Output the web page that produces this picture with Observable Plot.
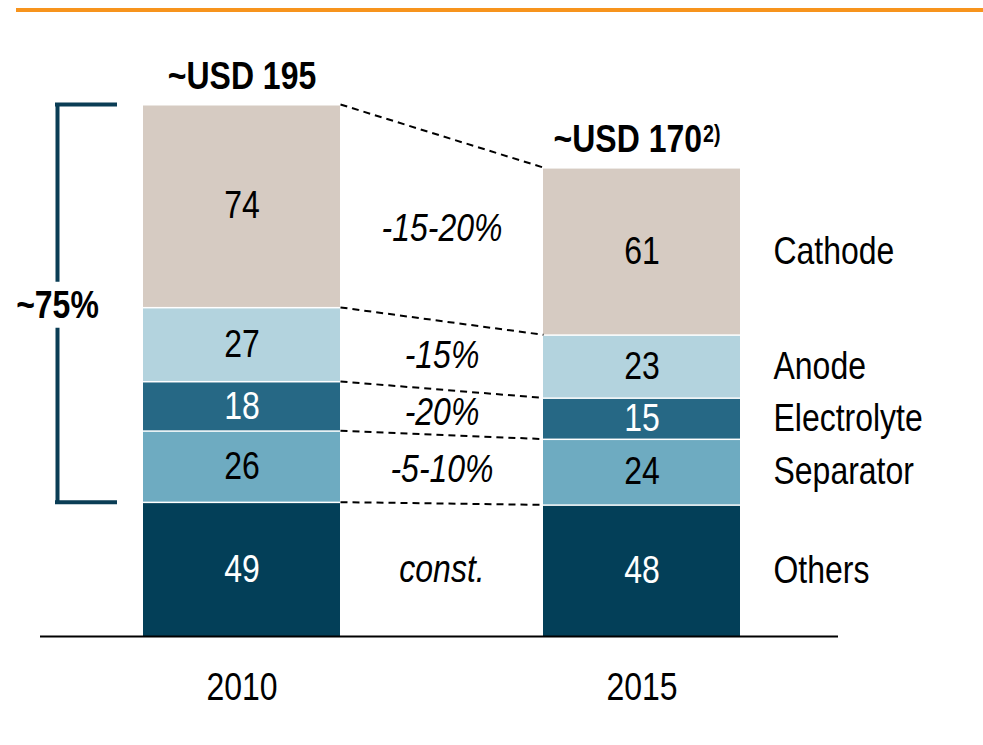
<!DOCTYPE html>
<html><head><meta charset="utf-8">
<script src="https://cdn.jsdelivr.net/npm/d3@7"></script>
<script src="https://cdn.jsdelivr.net/npm/@observablehq/plot@0.6"></script>
<style>
body{margin:0;background:#fff;}
#wrap{position:relative;width:983px;height:745px;}
#rule{position:absolute;left:16px;right:0;top:8px;height:4px;background:#f7941d;}
#chart{position:absolute;left:0;top:0;}
</style></head><body><div id="wrap"><div id="chart"></div><div id="rule"></div></div>
<script>
const years = ["2010", "2015"];
const parts = ["Others", "Separator", "Electrolyte", "Anode", "Cathode"];
const values2010 = [49, 26, 18, 27, 74];
const values2015 = [48, 24, 15, 23, 61];
const totalLabels = ["~USD 195", "~USD 170"];
const totalNotes = ["", "2)"];
const changes = ["const.", "-5-10%", "-20%", "-15%", "-15-20%"];
const colors = ["#033f58", "#6eabc1", "#266885", "#b3d3de", "#d6cbc2"];
const textColors = ["#ffffff", "#000000", "#ffffff", "#000000", "#000000"];
const shareLabel = "~75%";

const FONT = "'Liberation Sans',Arial,sans-serif";
const NARROW = 0.82;         // horizontal squeeze to mimic a narrow face
const px = 1 / 400;          // x units per pixel (bar step = 400px)
const h = 98.5 * px;         // half bar width

const series = [values2010, values2015];
const segments = [];
series.forEach((vals, i) => {
  let c = 0;
  vals.forEach((v, j) => {
    segments.push({i, year: years[i], part: parts[j], value: v, y1: c, y2: c + v, mid: c + v / 2, textColor: textColors[j]});
    c += v;
  });
});
const totals = series.map((vals, i) => ({i, total: d3.sum(vals), label: totalLabels[i], note: totalNotes[i]}));
const seg = (i, j) => segments[i * parts.length + j];

const links = parts.map((p, j) => ({a: seg(0, j).y2, b: seg(1, j).y2}));
const changeRows = parts.map((p, j) => ({text: changes[j], y: (seg(0, j).mid + seg(1, j).mid) / 2}));
const labels2015 = segments.filter(d => d.i === 1);

const bracketLow = seg(0, 0).y2;
const bracketHigh = totals[0].total;
const bracketMid = (bracketLow + bracketHigh) / 2;
const bx = -h - 86 * px;
const bxEnd = -h - 28 * px;
const bracketColor = "#0a3d55";

const chart = Plot.plot({
  width: 983,
  height: 745,
  marginLeft: 40,
  marginRight: 145,
  marginTop: 0,
  marginBottom: 109,
  style: {fontFamily: FONT, background: "transparent", overflow: "visible"},
  x: {domain: [0, 1], range: [241.5, 641.5], axis: null},
  y: {domain: [0, 194], range: [636, 104], axis: null},
  color: {domain: parts, range: colors},
  marks: [
    Plot.rect(segments, {x1: d => d.i - h, x2: d => d.i + h, y1: "y1", y2: "y2", fill: "part", insetTop: 1.5}),
    Plot.link(links, {x1: h, x2: 1 - h, y1: "a", y2: "b", stroke: "#000", strokeWidth: 2, strokeDasharray: "7,5"}),
    Plot.text(segments, {x: "i", y: "mid", text: d => String(d.value), fill: "textColor", fontSize: 39}),
    Plot.text(labels2015, {x: 1 + h, dx: 33, y: "mid", text: "part", textAnchor: "start", fill: "#000", fontSize: 39}),
    Plot.text(changeRows, {x: 0.5, y: "y", text: "text", fontStyle: "italic", fill: "#000", fontSize: 39}),
    Plot.text(totals.filter(d => !d.note), {x: "i", y: "total", dy: -16, lineAnchor: "bottom", text: "label", fontWeight: "bold", fontSize: 39, fill: "#000"}),
    Plot.text(totals.filter(d => d.note), {x: "i", y: "total", dx: 60, dy: -16, lineAnchor: "bottom", textAnchor: "end", text: "label", fontWeight: "bold", fontSize: 39, fill: "#000"}),
    Plot.text(totals.filter(d => d.note), {x: "i", y: "total", dx: 61, dy: -26, lineAnchor: "bottom", textAnchor: "start", text: "note", fontWeight: "bold", fontSize: 24, fill: "#000"}),
    Plot.ruleX([bx], {y1: bracketHigh, y2: bracketMid, stroke: bracketColor, strokeWidth: 4, insetBottom: 21}),
    Plot.ruleX([bx], {y1: bracketMid, y2: bracketLow, stroke: bracketColor, strokeWidth: 4, insetTop: 25}),
    Plot.ruleY([bracketLow, bracketHigh], {x1: bx, x2: bxEnd, stroke: bracketColor, strokeWidth: 4, strokeLinecap: "square"}),
    Plot.text([shareLabel], {x: bx, y: bracketMid, dy: 2, text: d => d, fontWeight: "bold", fontSize: 39, fill: "#000"}),
    Plot.ruleY([0], {stroke: "#000", strokeWidth: 2}),
    Plot.axisX({ticks: [0, 1], tickFormat: i => years[i], tickSize: 0, tickPadding: 36, fontSize: 39, anchor: "bottom", fill: "#000", label: null})
  ]
});
// squeeze glyphs horizontally around each text's own anchor point
d3.select(chart).selectAll("text").each(function () {
  const t = this.getAttribute("transform") || "";
  this.setAttribute("transform", (t + " scale(" + NARROW + ",1)").trim());
});
document.getElementById("chart").appendChild(chart);
</script>
</body></html>
